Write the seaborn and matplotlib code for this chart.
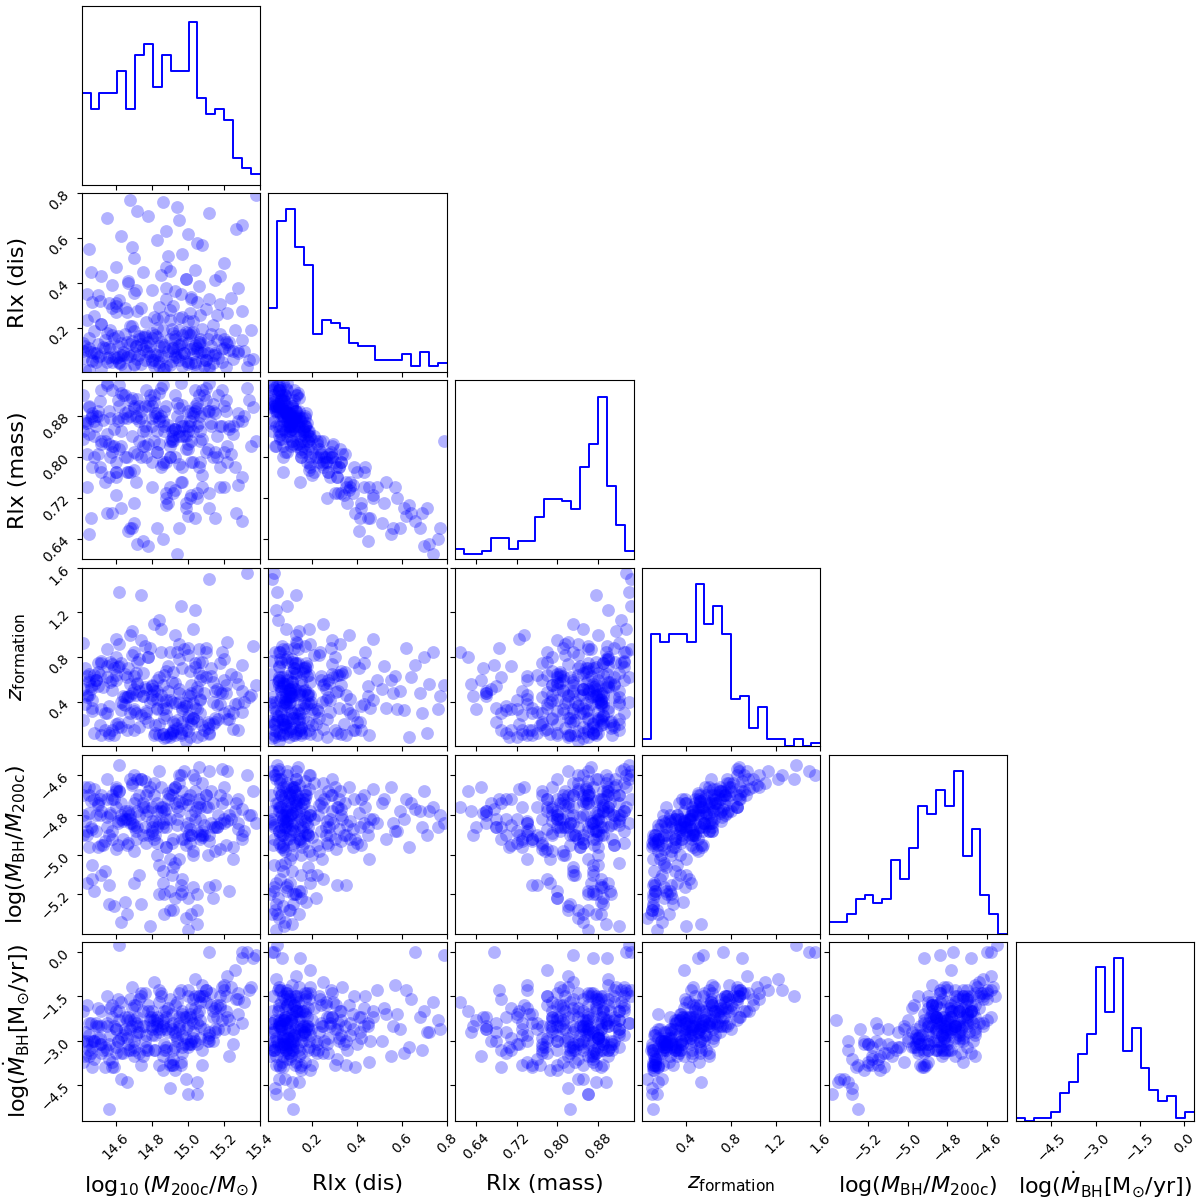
import numpy as np
import pandas as pd
import seaborn as sns
import matplotlib.pyplot as plt

labels = [
    r"$\log_{10}(M_{\rm 200c}/M_{\odot})$",
    "Rlx (dis)",
    "Rlx (mass)",
    r"$z_{\rm formation}$",
    r"$\log(M_{\rm BH}/M_{\rm 200c})$",
    r"$\log(\dot{M}_{\rm BH}[{\rm M}_{\odot}/{\rm yr}])$",
]
lims = [(14.41, 15.40), (0.005, 0.80), (0.600, 0.949),
        (0.003, 1.60), (-5.396, -4.50), (-5.70, 0.33)]
ticks = [[14.6, 14.8, 15.0, 15.2, 15.4], [0.2, 0.4, 0.6, 0.8],
         [0.64, 0.72, 0.80, 0.88], [0.4, 0.8, 1.2, 1.6],
         [-5.2, -5.0, -4.8, -4.6], [-4.5, -3.0, -1.5, 0.0]]

# histogram counts, 20 bins over each range
hist_m200 = [17, 14, 17, 17, 21, 14, 24, 26, 18, 24, 21, 21, 30, 16, 13, 14, 12, 5, 3, 2]
hist_dis = [22, 52, 56, 43, 37, 13, 18, 17, 15, 10, 9, 9, 4, 4, 4, 6, 2, 7, 2, 3]
hist_mass = [4, 2, 2, 3, 8, 8, 4, 7, 7, 16, 23, 23, 22, 19, 35, 44, 62, 28, 13, 3]
hist_zform = [2, 31, 29, 31, 31, 29, 45, 34, 39, 31, 13, 14, 5, 11, 2, 2, 0, 2, 0, 1]
hist_mbh = [3, 3, 5, 9, 10, 8, 9, 19, 14, 22, 33, 31, 37, 33, 42, 20, 27, 10, 5, 0]
hist_mdot = [1, 0, 1, 1, 3, 10, 14, 24, 31, 55, 39, 58, 25, 33, 19, 11, 7, 9, 1, 3]

# halo samples (scatter panels)
m200 = [14.52, 14.88, 15.05, 14.70, 15.21, 14.45, 14.97, 14.63, 15.12, 14.81,
        14.43, 15.33, 14.90, 14.58, 14.76, 15.02, 14.93, 14.47, 15.17, 14.68,
        14.84, 15.08, 14.55, 14.99, 14.73, 15.25, 14.62, 14.86, 15.04, 14.42,
        14.95, 14.79, 15.14, 14.66, 14.91, 15.36, 14.51, 15.00, 14.72, 14.83,
        15.10, 14.60, 14.49, 14.77, 15.03, 14.94, 14.64, 15.19, 14.85, 14.56,
        15.07, 14.71, 14.98, 14.44, 15.28, 15.05, 14.67, 15.01, 14.89, 14.53,
        15.15, 14.75, 14.96, 14.61, 15.09, 14.46, 14.87, 15.23, 14.70, 14.92,
        15.05, 14.57, 14.82, 14.50, 14.78, 15.04, 14.90, 14.63, 15.16, 14.74,
        14.45, 14.97, 15.30, 14.84, 14.59, 15.00, 14.69, 15.11, 14.87, 14.54,
        15.06, 14.80, 14.95, 14.66, 15.20, 14.42, 14.73, 15.02, 14.58, 14.91,
        15.13, 14.48, 14.83, 15.26, 14.65, 14.99, 14.76, 15.08, 14.55, 14.93,
        14.70, 15.18, 14.86, 14.61, 15.03, 14.80, 14.68, 15.00, 14.52, 14.90,
        15.14, 14.77, 14.44, 14.86, 15.07, 14.60, 14.95, 15.22, 14.72, 14.48,
        15.01, 14.81, 15.30, 14.65, 14.92, 15.10, 14.56, 14.84, 15.05, 14.74,
        15.18, 14.47, 14.88, 15.02, 14.62, 14.96, 15.24, 14.70, 14.50, 15.12,
        14.80, 15.06, 14.58, 14.93, 15.28, 14.67, 14.99, 14.52, 15.15, 14.85,
        14.75, 15.04, 14.60, 14.90, 15.20, 14.70, 14.97, 14.45, 15.08, 14.83,
        14.63, 15.00, 14.88, 15.30, 14.55, 14.78, 15.12, 14.94, 14.68, 15.38,
        14.47, 14.91, 15.09, 14.66, 14.78, 15.23, 14.55, 14.99, 14.82, 15.15,
        14.43, 14.74, 15.02, 14.61, 14.95, 15.31, 14.69, 14.87, 15.06, 14.52,
        14.80, 15.11, 14.58, 14.93, 15.19, 14.71, 14.45, 15.00, 14.84, 15.27,
        14.64, 14.97, 15.13, 14.50, 14.88, 14.76, 15.04, 14.60, 14.92, 15.21,
        14.49, 14.83, 15.08, 14.67, 14.96, 15.34, 14.72, 14.54, 15.01, 14.86,
        14.63, 15.16, 14.79, 14.44, 14.94, 15.07, 14.70, 14.89, 15.25, 14.57,
        14.81, 15.03, 14.68, 14.98, 14.46, 15.12, 14.75, 14.90, 15.20, 14.59,
        14.85, 15.05, 14.62, 14.92, 15.28, 14.51, 14.77, 15.00, 14.69, 15.14,
        14.42, 14.88, 15.10, 14.73, 14.95, 15.22, 14.56, 14.83, 15.03, 14.65,
        14.97, 14.48, 15.18, 14.80, 15.07, 14.60, 14.93, 15.35, 14.71, 14.86]
rlx_dis = [0.020, 0.030, 0.010, 0.035, 0.025, 0.015, 0.030, 0.038, 0.020, 0.032,
           0.012, 0.028, 0.036, 0.050, 0.060, 0.045, 0.070, 0.055, 0.065, 0.075,
           0.048, 0.058, 0.068, 0.052, 0.078, 0.062, 0.044, 0.072, 0.050, 0.066,
           0.058, 0.074, 0.046, 0.070, 0.054, 0.064, 0.076, 0.049, 0.061, 0.079,
           0.057, 0.068, 0.090, 0.100, 0.085, 0.110, 0.095, 0.105, 0.082, 0.115,
           0.092, 0.118, 0.088, 0.102, 0.096, 0.112, 0.084, 0.108, 0.098, 0.114,
           0.090, 0.106, 0.086, 0.119, 0.100, 0.093, 0.116, 0.104, 0.087, 0.111,
           0.097, 0.109, 0.083, 0.130, 0.140, 0.125, 0.150, 0.135, 0.145, 0.128,
           0.155, 0.138, 0.148, 0.122, 0.158, 0.132, 0.142, 0.152, 0.126, 0.146,
           0.136, 0.156, 0.124, 0.140, 0.150, 0.134, 0.165, 0.180, 0.170, 0.195,
           0.175, 0.185, 0.162, 0.190, 0.172, 0.182, 0.168, 0.198, 0.178, 0.164,
           0.188, 0.174, 0.192, 0.166, 0.184, 0.176, 0.210, 0.230, 0.220, 0.235,
           0.215, 0.225, 0.238, 0.250, 0.260, 0.270, 0.245, 0.265, 0.275, 0.255,
           0.268, 0.248, 0.278, 0.290, 0.300, 0.285, 0.310, 0.295, 0.315, 0.288,
           0.305, 0.318, 0.330, 0.340, 0.325, 0.350, 0.335, 0.355, 0.345, 0.328,
           0.370, 0.385, 0.390, 0.365, 0.380, 0.410, 0.420, 0.430, 0.415, 0.435,
           0.450, 0.460, 0.470, 0.455, 0.490, 0.510, 0.530, 0.550, 0.570, 0.590,
           0.610, 0.620, 0.630, 0.660, 0.690, 0.700, 0.710, 0.740, 0.770, 0.790,
           0.06, 0.11, 0.03, 0.27, 0.09, 0.14, 0.05, 0.42, 0.17, 0.08,
           0.12, 0.04, 0.33, 0.07, 0.19, 0.10, 0.56, 0.02, 0.13, 0.22,
           0.06, 0.09, 0.29, 0.15, 0.05, 0.37, 0.11, 0.18, 0.03, 0.64,
           0.08, 0.25, 0.12, 0.07, 0.47, 0.16, 0.04, 0.31, 0.10, 0.14,
           0.05, 0.20, 0.09, 0.40, 0.13, 0.06, 0.72, 0.11, 0.17, 0.02,
           0.08, 0.26, 0.12, 0.35, 0.07, 0.15, 0.04, 0.52, 0.10, 0.19,
           0.06, 0.23, 0.13, 0.09, 0.45, 0.03, 0.16, 0.28, 0.11, 0.07,
           0.14, 0.58, 0.05, 0.18, 0.09, 0.32, 0.12, 0.04, 0.21, 0.08,
           0.10, 0.38, 0.06, 0.15, 0.68, 0.13, 0.07, 0.24, 0.11, 0.02,
           0.17, 0.09, 0.43, 0.05, 0.14, 0.30, 0.08, 0.19, 0.12, 0.76]
rlx_mass = [0.930, 0.900, 0.905, 0.895, 0.910, 0.898, 0.902, 0.820, 0.945, 0.906,
            0.865, 0.935, 0.820, 0.930, 0.900, 0.885, 0.855, 0.885, 0.920, 0.910,
            0.925, 0.835, 0.945, 0.840, 0.900, 0.845, 0.940, 0.870, 0.930, 0.835,
            0.895, 0.920, 0.903, 0.800, 0.850, 0.897, 0.908, 0.890, 0.912, 0.885,
            0.935, 0.770, 0.880, 0.850, 0.885, 0.905, 0.875, 0.860, 0.935, 0.825,
            0.880, 0.876, 0.860, 0.865, 0.885, 0.895, 0.890, 0.870, 0.862, 0.872,
            0.885, 0.820, 0.945, 0.870, 0.885, 0.875, 0.860, 0.855, 0.810, 0.855,
            0.860, 0.875, 0.885, 0.890, 0.825, 0.890, 0.800, 0.925, 0.840, 0.875,
            0.845, 0.860, 0.870, 0.875, 0.855, 0.825, 0.915, 0.815, 0.890, 0.750,
            0.865, 0.875, 0.850, 0.875, 0.810, 0.920, 0.830, 0.830, 0.810, 0.835,
            0.865, 0.840, 0.850, 0.780, 0.885, 0.815, 0.860, 0.765, 0.845, 0.855,
            0.775, 0.860, 0.785, 0.875, 0.850, 0.790, 0.770, 0.815, 0.825, 0.830,
            0.800, 0.800, 0.805, 0.790, 0.790, 0.770, 0.785, 0.790, 0.805, 0.800,
            0.720, 0.830, 0.760, 0.800, 0.730, 0.810, 0.760, 0.825, 0.730, 0.800,
            0.780, 0.780, 0.790, 0.725, 0.815, 0.750, 0.805, 0.710, 0.805, 0.730,
            0.740, 0.780, 0.690, 0.735, 0.745, 0.655, 0.710, 0.770, 0.680, 0.780,
            0.635, 0.680, 0.725, 0.740, 0.740, 0.670, 0.750, 0.650, 0.740, 0.660,
            0.700, 0.685, 0.705, 0.675, 0.690, 0.625, 0.700, 0.610, 0.660, 0.830,
            0.88, 0.83, 0.92, 0.77, 0.90, 0.86, 0.94, 0.70, 0.88, 0.81,
            0.87, 0.89, 0.79, 0.91, 0.84, 0.88, 0.66, 0.85, 0.92, 0.83,
            0.86, 0.89, 0.82, 0.80, 0.93, 0.75, 0.90, 0.85, 0.87, 0.69,
            0.92, 0.78, 0.86, 0.88, 0.72, 0.82, 0.90, 0.76, 0.84, 0.89,
            0.86, 0.81, 0.93, 0.77, 0.87, 0.91, 0.63, 0.83, 0.86, 0.94,
            0.85, 0.80, 0.91, 0.74, 0.88, 0.83, 0.90, 0.71, 0.86, 0.80,
            0.92, 0.79, 0.88, 0.84, 0.68, 0.89, 0.85, 0.80, 0.90, 0.82,
            0.88, 0.72, 0.90, 0.83, 0.87, 0.78, 0.93, 0.86, 0.84, 0.89,
            0.85, 0.73, 0.91, 0.87, 0.66, 0.82, 0.89, 0.81, 0.88, 0.92,
            0.84, 0.87, 0.74, 0.90, 0.85, 0.79, 0.92, 0.82, 0.88, 0.64]
z_form = [0.77, 0.35, 0.23, 0.85, 0.55, 0.65, 0.22, 0.40, 1.50, 0.10,
          0.38, 1.55, 0.09, 0.60, 0.53, 0.24, 0.57, 0.42, 0.25, 0.56,
          1.13, 0.10, 0.87, 0.05, 0.78, 0.30, 1.38, 0.11, 0.71, 0.24,
          0.78, 0.40, 0.58, 0.62, 0.12, 0.90, 0.19, 0.27, 0.76, 0.43,
          0.85, 0.20, 0.60, 0.52, 0.39, 0.17, 0.45, 0.48, 1.05, 0.10,
          0.43, 0.46, 0.87, 0.44, 0.39, 0.53, 0.45, 0.45, 0.50, 0.53,
          0.26, 0.45, 1.26, 0.21, 0.48, 0.52, 0.26, 0.32, 0.63, 0.67,
          0.09, 0.76, 0.19, 0.75, 0.22, 0.75, 0.12, 0.75, 0.37, 1.36,
          0.46, 0.33, 0.50, 0.10, 0.70, 0.26, 1.03, 0.17, 0.64, 0.15,
          0.87, 0.55, 0.52, 0.15, 0.30, 0.93, 0.50, 0.48, 0.51, 0.40,
          0.63, 0.64, 0.35, 0.38, 0.37, 0.39, 0.90, 0.19, 0.72, 0.39,
          0.15, 0.75, 0.11, 0.71, 1.05, 0.46, 0.30, 0.82, 0.10, 0.85,
          0.20, 0.32, 0.63, 0.55, 0.42, 0.60, 0.40, 0.25, 0.57, 0.56,
          0.09, 1.10, 0.31, 0.65, 0.15, 0.88, 0.12, 0.62, 0.50, 0.95,
          0.49, 0.35, 0.68, 0.20, 0.92, 0.10, 0.65, 0.34, 0.67, 0.11,
          0.43, 0.76, 0.15, 1.00, 0.15, 0.70, 0.15, 0.75, 0.22, 0.85,
          0.45, 0.35, 0.96, 0.10, 0.60, 0.52, 0.35, 0.60, 0.63, 0.50,
          0.33, 0.88, 0.09, 0.73, 0.30, 0.80, 0.12, 0.85, 0.45, 0.55,
          0.32, 0.58, 0.15, 0.44, 0.80, 0.25, 0.62, 0.36, 0.12, 0.50,
          0.70, 0.28, 0.55, 0.18, 0.92, 0.40, 0.48, 0.08, 0.66, 0.34,
          0.52, 0.22, 0.74, 0.10, 0.85, 0.30, 0.58, 0.46, 0.20, 0.62,
          0.38, 0.16, 0.70, 0.54, 0.42, 0.26, 1.22, 0.64, 0.14, 0.48,
          0.60, 0.34, 0.76, 0.22, 0.12, 0.44, 0.56, 0.30, 0.68, 0.40,
          0.18, 0.52, 0.88, 0.46, 0.24, 0.60, 0.32, 0.72, 0.16, 0.58,
          0.50, 0.26, 1.00, 0.36, 0.54, 0.20, 0.66, 0.42, 0.78, 0.10,
          0.46, 0.34, 0.72, 0.22, 0.56, 0.64, 0.30, 0.14, 0.82, 0.40,
          0.52, 0.28, 0.62, 0.18, 0.48, 0.94, 0.36, 0.60, 0.26, 0.44,
          0.70, 0.12, 0.38, 0.54, 0.30, 0.80, 0.20, 0.46, 0.66, 0.34]
mbh_ratio = [-4.78, -4.86, -5.20, -4.60, -4.95, -4.70, -5.18, -4.74, -4.58, -4.92,
             -4.83, -4.60, -5.28, -4.88, -4.76, -5.30, -4.66, -5.12, -4.80, -4.84,
             -4.58, -4.90, -4.72, -5.32, -4.70, -4.96, -4.55, -5.08, -4.78, -4.90,
             -4.64, -5.36, -4.74, -4.82, -4.94, -4.68, -4.80, -5.22, -4.62, -4.86,
             -4.76, -4.97, -4.80, -4.70, -5.16, -4.85, -4.92, -4.74, -4.66, -5.25,
             -4.82, -4.88, -4.58, -5.14, -4.72, -5.35, -4.78, -4.87, -4.69, -4.95,
             -5.15, -4.76, -4.60, -4.84, -4.90, -4.73, -5.20, -4.80, -4.86, -4.67,
             -5.28, -4.79, -4.83, -4.75, -4.90, -4.68, -5.18, -4.80, -4.86, -4.62,
             -4.96, -4.74, -4.92, -5.20, -4.72, -4.84, -4.65, -5.00, -4.78, -4.93,
             -4.56, -4.88, -4.73, -5.30, -4.82, -4.70, -4.80, -4.90, -4.72, -5.10,
             -4.84, -4.67, -4.94, -4.78, -5.24, -4.86, -4.63, -4.91, -4.81, -4.74,
             -4.98, -4.70, -5.14, -4.83, -4.60, -4.89, -4.82, -4.75, -4.95, -4.70,
             -5.22, -4.80, -4.88, -4.76, -4.90, -4.68, -5.02, -4.83, -4.86, -4.72,
             -4.94, -4.64, -4.90, -4.78, -4.92, -4.70, -5.15, -4.84, -4.76, -4.62,
             -4.97, -4.87, -4.77, -4.90, -4.68, -5.15, -4.82, -4.85, -4.74, -4.93,
             -4.83, -4.72, -4.92, -4.66, -4.87, -4.79, -4.95, -4.70, -4.86, -4.76,
             -4.90, -4.82, -4.67, -5.02, -4.84, -4.74, -4.92, -4.66, -4.88, -4.78,
             -4.82, -4.72, -4.96, -4.77, -4.86, -4.68, -4.90, -4.76, -4.80, -4.84,
             -5.05, -4.70, -4.85, -4.95, -4.78, -5.18, -4.62, -4.72, -4.90, -4.98,
             -4.66, -5.25, -4.80, -4.95, -4.60, -4.88, -4.84, -5.30, -4.74, -5.10,
             -4.86, -4.76, -4.70, -5.22, -4.57, -4.92, -4.79, -4.90, -5.05, -4.74,
             -4.83, -5.12, -4.68, -4.96, -4.82, -4.86, -4.62, -4.76, -5.28, -4.72,
             -4.88, -5.00, -4.64, -4.94, -5.20, -4.80, -4.78, -5.08, -4.70, -4.84,
             -5.34, -4.86, -4.66, -4.90, -4.82, -4.76, -5.14, -4.72, -5.02, -4.80,
             -4.70, -4.98, -4.62, -4.92, -4.86, -5.16, -4.74, -4.82, -4.66, -5.26,
             -4.78, -4.88, -4.68, -5.06, -4.84, -4.72, -4.94, -5.38, -4.64, -4.86,
             -4.80, -4.96, -4.70, -5.10, -4.78, -4.58, -4.90, -4.74, -5.00, -4.82,
             -4.68, -5.18, -4.84, -4.76, -4.92, -4.66, -5.04, -4.80, -4.72, -4.86]
mdot_bh = [-2.0, -3.3, -3.1, -2.3, -1.5, -2.4, -3.2, -2.9, 0.0, -3.3,
           -3.5, 0.0, -4.6, -1.8, -2.5, -3.0, -2.8, -3.9, -2.6, -2.3,
           -1.3, -3.3, -1.5, -4.3, -1.6, -3.1, 0.25, -3.5, -1.9, -3.7,
           -2.4, -2.3, -2.0, -2.3, -3.8, -0.2, -3.1, -3.1, -2.5, -2.2,
           -1.3, -3.2, -2.4, -3.2, -2.4, -3.0, -3.4, -2.3, -1.4, -5.3,
           -2.9, -1.8, -2.2, -3.1, -1.6, -4.4, -3.3, -2.2, -2.7, -3.3,
           -2.6, -3.5, -1.3, -3.0, -1.5, -3.4, -3.1, -2.3, -1.8, -2.4,
           -4.8, -1.9, -3.3, -1.9, -3.3, -1.5, -3.8, -1.7, -2.2, -1.5,
           -2.8, -2.8, -0.2, -3.8, -2.5, -3.2, -1.2, -3.0, -2.0, -3.9,
           -1.5, -2.0, -2.6, -4.4, -2.6, -2.0, -2.7, -1.9, -3.7, -2.6,
           -1.4, -3.0, -2.5, -0.6, -2.6, -2.6, -1.4, -3.8, -2.5, -2.7,
           -3.2, -1.5, -4.0, -1.6, -1.6, -2.2, -3.3, -1.5, -3.4, -1.6,
           -3.0, -3.3, -1.8, -2.5, -1.7, -3.4, -2.5, -2.2, -2.2, -3.0,
           -3.1, -1.0, -2.4, -2.2, -3.8, -1.3, -3.6, -1.7, -2.4, -1.4,
           -1.8, -3.0, -2.0, -3.1, -2.0, -3.8, -1.2, -3.3, -2.5, -2.8,
           -2.8, -1.5, -3.9, -1.8, -2.1, -2.2, -2.9, -2.5, -2.7, -1.5,
           -2.5, -3.0, -2.0, -3.7, -1.3, -3.0, -2.1, -3.5, -1.1, -2.6,
           -3.4, -1.3, -3.2, 0.0, -3.3, -2.0, -2.7, -1.7, -2.6, -0.1,
           -3.2, -2.1, -2.6, -2.9, -1.8, -3.5, -2.4, -2.2, -2.8, -1.9,
           -2.7, -3.8, -2.3, -3.0, -1.4, -1.7, -2.5, -3.3, -2.0, -3.1,
           -2.6, -2.9, -2.2, -4.0, -1.2, -2.4, -3.3, -2.5, -2.7, -1.6,
           -2.8, -3.4, -1.8, -2.9, -2.2, -3.0, -0.9, -2.6, -3.6, -2.0,
           -2.5, -2.3, -1.5, -3.1, -3.7, -1.3, -2.7, -3.2, -2.1, -2.4,
           -4.3, -1.8, -2.2, -3.0, -2.9, -2.5, -3.5, -1.9, -2.6, -2.8,
           -2.3, -2.7, -1.6, -3.1, -2.4, -3.0, -2.0, -2.5, -1.1, -3.9,
           -2.6, -2.1, -2.3, -3.3, -1.4, -2.9, -2.8, -4.8, -1.9, -2.2,
           -3.0, -2.6, -1.7, -3.4, -2.2, -0.8, -3.1, -2.4, -2.9, -2.7,
           -2.0, -3.6, -1.9, -2.5, -2.3, -2.6, -3.2, -1.2, -2.8, -2.3]

samples = [m200, rlx_dis, rlx_mass, z_form, mbh_ratio, mdot_bh]
hists = [hist_m200, hist_dis, hist_mass, hist_zform, hist_mbh, hist_mdot]
n = len(samples)

fig, axes = plt.subplots(n, n, figsize=(12, 12), dpi=100)
fig.subplots_adjust(left=0.068, right=0.995, bottom=0.066, top=0.995,
                    wspace=0.048, hspace=0.048)

for i in range(n):
    for j in range(n):
        ax = axes[i, j]
        if j > i:
            ax.axis("off")
            continue
        if i == j:
            edges = np.linspace(lims[i][0], lims[i][1], 21)
            df = pd.DataFrame({"x": 0.5 * (edges[1:] + edges[:-1]),
                               "count": hists[i]})
            sns.histplot(data=df, x="x", weights="count", bins=list(edges),
                         element="step", fill=False, color="blue",
                         linewidth=1.4, ax=ax)
            ax.set_ylim(0, 1.1 * max(hists[i]))
            ax.set_yticks([])
        else:
            sns.scatterplot(x=samples[j], y=samples[i], color="blue", alpha=0.3,
                            s=85, linewidth=0, ax=ax)
            ax.set_ylim(lims[i])
            ax.set_yticks(ticks[i])
        ax.set_xlim(lims[j])
        ax.set_xticks(ticks[j])
        ax.set_xlabel("")
        ax.set_ylabel("")

        if i == n - 1:
            for lab in ax.get_xticklabels():
                lab.set_rotation(45)
                lab.set_fontsize(10)
            ax.set_xlabel(labels[j], fontsize=16)
            ax.xaxis.set_label_coords(0.5, -0.27 if j == n - 1 else -0.3)
        else:
            ax.tick_params(labelbottom=False)

        if j == 0 and i > 0:
            for lab in ax.get_yticklabels():
                lab.set_rotation(45)
                lab.set_fontsize(10)
            ax.set_ylabel(labels[i], fontsize=16)
            ax.yaxis.set_label_coords(-0.28 if i == n - 1 else -0.3, 0.5)
        else:
            ax.tick_params(labelleft=False)

fig.savefig("out.png", dpi=100)
